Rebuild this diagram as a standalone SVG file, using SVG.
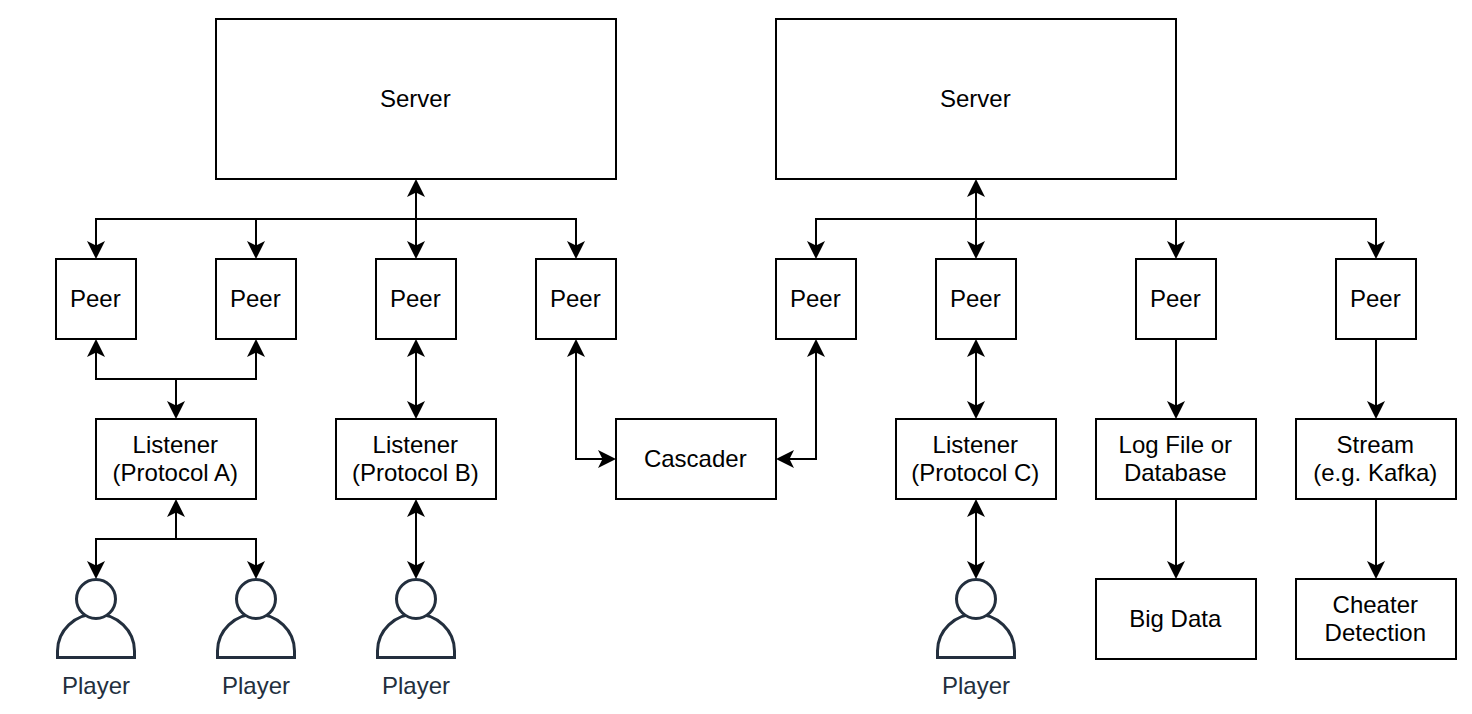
<svg xmlns="http://www.w3.org/2000/svg" width="1472" height="714" viewBox="0 0 1472 714">
<style>
.b{fill:#fff;stroke:#000;stroke-width:2}
text{font-family:"Liberation Sans",Arial,sans-serif;font-size:24px;text-anchor:middle;fill:#000}
.c path{fill:none;stroke:#000;stroke-width:2}
.one{marker-end:url(#a)}
.two{marker-start:url(#a);marker-end:url(#a)}
.p path,.p circle{fill:#fff;stroke:#232f3e;stroke-width:3}
.p text{fill:#232f3e}
</style>
<defs>
<marker id="a" markerUnits="userSpaceOnUse" markerWidth="20" markerHeight="20" refX="12" refY="10" orient="auto-start-reverse" viewBox="0 0 20 20">
<path d="M18 10L0 1L4.500 10L0 19Z" fill="#000"/>
</marker>
</defs>
<rect width="1472" height="714" fill="#fff"/>
<g id="connectors" class="c">
<path class="two" d="M416 185V253"/>
<path class="one" d="M416 219H96V253"/>
<path class="one" d="M256 219V253"/>
<path class="one" d="M416 219H576V253"/>
<path class="two" d="M976 185V253"/>
<path class="one" d="M976 219H816V253"/>
<path class="one" d="M976 219H1176V253"/>
<path class="one" d="M1176 219H1376V253"/>
<path class="one" d="M176 379V413"/>
<path class="one" d="M176 379H96V345"/>
<path class="one" d="M176 379H256V345"/>
<path class="two" d="M416 345V413"/>
<path class="two" d="M576 345V459H610"/>
<path class="two" d="M816 345V459H782"/>
<path class="two" d="M976 345V413"/>
<path class="one" d="M1176 339V413"/>
<path class="one" d="M1376 339V413"/>
<path class="one" d="M1176 499V573"/>
<path class="one" d="M1376 499V573"/>
<path class="one" d="M176 539V505"/>
<path class="one" d="M176 539H96V573"/>
<path class="one" d="M176 539H256V573"/>
<path class="two" d="M416 505V573"/>
<path class="two" d="M976 505V573"/>
</g>
<g id="server1"><rect class="b" x="216" y="19" width="400" height="160"/><text x="415.300" y="107">Server</text></g>
<g id="server2"><rect class="b" x="776" y="19" width="400" height="160"/><text x="975.300" y="107">Server</text></g>
<g id="peer1"><rect class="b" x="56" y="259" width="80" height="80"/><text x="95.300" y="307">Peer</text></g>
<g id="peer2"><rect class="b" x="216" y="259" width="80" height="80"/><text x="255.300" y="307">Peer</text></g>
<g id="peer3"><rect class="b" x="376" y="259" width="80" height="80"/><text x="415.300" y="307">Peer</text></g>
<g id="peer4"><rect class="b" x="536" y="259" width="80" height="80"/><text x="575.300" y="307">Peer</text></g>
<g id="peer5"><rect class="b" x="776" y="259" width="80" height="80"/><text x="815.300" y="307">Peer</text></g>
<g id="peer6"><rect class="b" x="936" y="259" width="80" height="80"/><text x="975.300" y="307">Peer</text></g>
<g id="peer7"><rect class="b" x="1136" y="259" width="80" height="80"/><text x="1175.300" y="307">Peer</text></g>
<g id="peer8"><rect class="b" x="1336" y="259" width="80" height="80"/><text x="1375.300" y="307">Peer</text></g>
<g id="listenerA"><rect class="b" x="96" y="419" width="160" height="80"/><text x="175.300" y="453">Listener</text><text x="175.300" y="481">(Protocol A)</text></g>
<g id="listenerB"><rect class="b" x="336" y="419" width="160" height="80"/><text x="415.300" y="453">Listener</text><text x="415.300" y="481">(Protocol B)</text></g>
<g id="cascader"><rect class="b" x="616" y="419" width="160" height="80"/><text x="695.300" y="467">Cascader</text></g>
<g id="listenerC"><rect class="b" x="896" y="419" width="160" height="80"/><text x="975.300" y="453">Listener</text><text x="975.300" y="481">(Protocol C)</text></g>
<g id="log"><rect class="b" x="1096" y="419" width="160" height="80"/><text x="1175.300" y="453">Log File or</text><text x="1175.300" y="481">Database</text></g>
<g id="stream"><rect class="b" x="1296" y="419" width="160" height="80"/><text x="1375.300" y="453">Stream</text><text x="1375.300" y="481">(e.g. Kafka)</text></g>
<g id="bigdata"><rect class="b" x="1096" y="579" width="160" height="80"/><text x="1175.300" y="627">Big Data</text></g>
<g id="cheater"><rect class="b" x="1296" y="579" width="160" height="80"/><text x="1375.300" y="613">Cheater</text><text x="1375.300" y="641">Detection</text></g>
<g id="player1" class="p"><path d="M57.500 657.500V651A38.500 37 0 0 1 134.500 651V657.500Z"/><circle cx="96" cy="599" r="19.500"/><text x="96" y="694">Player</text></g>
<g id="player2" class="p"><path d="M217.500 657.500V651A38.500 37 0 0 1 294.500 651V657.500Z"/><circle cx="256" cy="599" r="19.500"/><text x="256" y="694">Player</text></g>
<g id="player3" class="p"><path d="M377.500 657.500V651A38.500 37 0 0 1 454.500 651V657.500Z"/><circle cx="416" cy="599" r="19.500"/><text x="416" y="694">Player</text></g>
<g id="player4" class="p"><path d="M937.500 657.500V651A38.500 37 0 0 1 1014.500 651V657.500Z"/><circle cx="976" cy="599" r="19.500"/><text x="976" y="694">Player</text></g>
</svg>
